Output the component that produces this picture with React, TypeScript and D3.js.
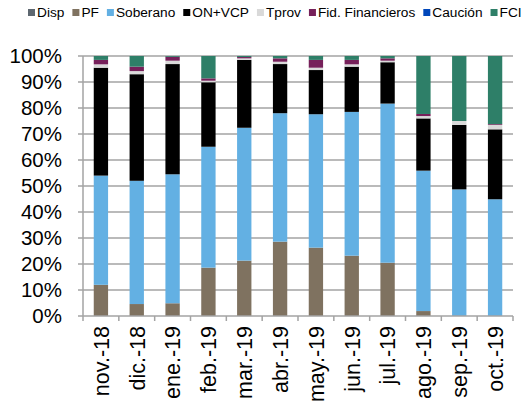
import React, { useEffect, useRef } from "react";
import * as d3 from "d3";

const categories = ["nov.-18", "dic.-18", "ene.-19", "feb.-19", "mar.-19", "abr.-19", "may.-19", "jun.-19", "jul.-19", "ago.-19", "sep.-19", "oct.-19"];
const seriesNames = ["Disp", "PF", "Soberano", "ON+VCP", "Tprov", "Fid. Financieros", "Caución", "FCI"];
const seriesColors = ["#5d6770", "#7f7260", "#63b0e3", "#000000", "#d9d9d9", "#76205a", "#0047bb", "#2e7f68"];

const disp = [0, 0, 0, 0, 0, 0, 0, 0, 0, 0, 0, 0];
const pf = [12, 4.6, 4.9, 18.6, 21.3, 28.6, 26.3, 23.2, 20.5, 1.9, 0, 0];
const soberano = [42, 47.4, 49.6, 46.5, 51.1, 49.4, 51.3, 55.3, 61.2, 54, 48.7, 44.9];
const onvcp = [41.5, 41, 42.4, 24.8, 26.1, 18.9, 17, 17.4, 15.9, 20.1, 24.8, 26.9];
const tprov = [1.3, 1.2, 1.3, 0.6, 0.6, 0.9, 0.9, 0.9, 0.6, 0.9, 1.5, 1.7];
const fid = [1.7, 1.7, 1.5, 0.9, 0.5, 1.3, 3, 1.7, 0.9, 0.8, 0, 0.3];
const caucion = [0, 0, 0, 0, 0, 0, 0, 0, 0, 0, 0, 0];
const fci = [1.5, 4.1, 0.3, 8.6, 0.4, 0.9, 1.5, 1.5, 0.9, 22.3, 25, 26.2];

const seriesValues = [disp, pf, soberano, onvcp, tprov, fid, caucion, fci];
const yTicks = [0, 10, 20, 30, 40, 50, 60, 70, 80, 90, 100];

const W = 527, H = 408;
const FONT = "'Liberation Sans', Arial, sans-serif";

export default function App() {
  const ref = useRef<SVGSVGElement>(null);
  useEffect(() => {
    const svg = d3.select(ref.current);
    svg.selectAll("*").remove();
    const left = 83, right = 513, top = 56, bottom = 316;
    const x = d3.scaleBand<string>().domain(categories).range([left, right]).paddingInner(0.6).paddingOuter(0.3);
    const y = d3.scaleLinear().domain([0, 100]).range([bottom, top]);
    const gridColor = "#a3a3a3";

    // grid
    svg.append("g").selectAll("line").data(yTicks.filter(t => t > 0)).join("line")
      .attr("x1", left).attr("x2", right).attr("y1", d => y(d)).attr("y2", d => y(d))
      .attr("stroke", gridColor).attr("stroke-width", 1.5);

    // bars
    const rows = categories.map((c, i) => {
      const r: any = { cat: c };
      seriesNames.forEach((s, j) => (r[s] = seriesValues[j][i]));
      return r;
    });
    const stacked = d3.stack().keys(seriesNames)(rows);
    stacked.forEach((layer, j) => {
      svg.append("g").selectAll("rect").data(layer).join("rect")
        .attr("x", (d: any) => x(d.data.cat)!)
        .attr("width", x.bandwidth())
        .attr("y", d => y(d[1]))
        .attr("height", d => Math.max(0, y(d[0]) - y(d[1])))
        .attr("fill", seriesColors[j]);
    });

    // y axis
    svg.append("line").attr("x1", left).attr("x2", left).attr("y1", top).attr("y2", bottom)
      .attr("stroke", gridColor).attr("stroke-width", 1.5);
    svg.append("g").selectAll("line").data(yTicks).join("line")
      .attr("x1", left - 5).attr("x2", left).attr("y1", d => y(d)).attr("y2", d => y(d))
      .attr("stroke", gridColor).attr("stroke-width", 1.5);
    svg.append("g").selectAll("text").data(yTicks).join("text")
      .attr("x", 62).attr("y", d => y(d)).attr("dy", "0.36em")
      .attr("text-anchor", "end").attr("font-family", FONT).attr("font-size", 20.5).attr("fill", "#000")
      .text(d => `${d}%`);

    // x axis
    svg.append("line").attr("x1", left).attr("x2", right).attr("y1", bottom).attr("y2", bottom)
      .attr("stroke", gridColor).attr("stroke-width", 1.5);
    const bounds = d3.range(categories.length + 1).map(i => left + i * x.step());
    svg.append("g").selectAll("line").data(bounds).join("line")
      .attr("x1", d => d).attr("x2", d => d).attr("y1", bottom).attr("y2", bottom + 5)
      .attr("stroke", gridColor).attr("stroke-width", 1.5);
    svg.append("g").selectAll("text").data(categories).join("text")
      .attr("transform", d => `translate(${x(d)! + x.bandwidth() / 2},${bottom + 10}) rotate(-90)`)
      .attr("dy", "0.36em").attr("text-anchor", "end")
      .attr("font-family", FONT).attr("font-size", 21.5).attr("fill", "#000")
      .text(d => d);

    // legend
    const lg = svg.append("g");
    let cx = 28;
    seriesNames.forEach((s, j) => {
      lg.append("rect").attr("x", cx).attr("y", 9).attr("width", 7).attr("height", 7).attr("fill", seriesColors[j]);
      const t = lg.append("text").attr("x", cx + 9).attr("y", 12.5).attr("dy", "0.36em")
        .attr("font-family", FONT).attr("font-size", 13.7).attr("fill", "#000").text(s);
      const w = (t.node() as SVGTextElement).getComputedTextLength();
      cx = cx + 9 + w + 8;
    });
  }, []);
  return <svg ref={ref} width={W} height={H} style={{ position: "absolute", left: 0, top: 0, background: "#fff" }} />;
}
